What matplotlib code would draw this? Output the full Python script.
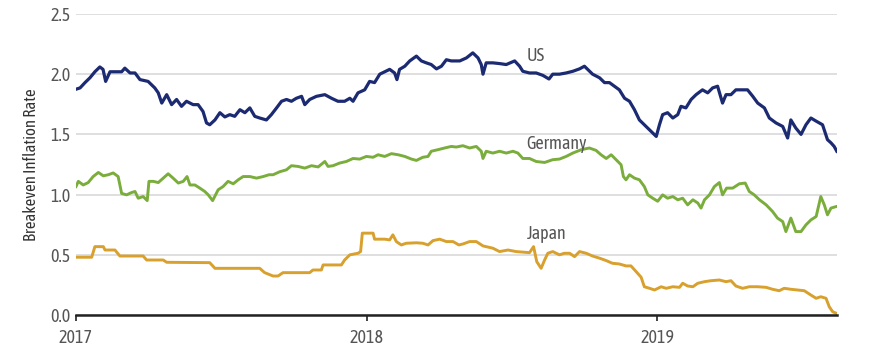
import matplotlib.pyplot as plt
import numpy as np

# decimal-year x positions and breakeven rates
us_t = [2017.000, 2017.014, 2017.031, 2017.048, 2017.065, 2017.082, 2017.093, 2017.102, 2017.117, 2017.140,
        2017.157, 2017.168, 2017.186, 2017.203, 2017.220, 2017.248, 2017.271, 2017.283, 2017.295, 2017.312,
        2017.329, 2017.346, 2017.363, 2017.380, 2017.403, 2017.420, 2017.437, 2017.449, 2017.460, 2017.478,
        2017.495, 2017.512, 2017.529, 2017.546, 2017.564, 2017.581, 2017.598, 2017.615, 2017.632, 2017.655,
        2017.672, 2017.690, 2017.707, 2017.724, 2017.741, 2017.758, 2017.776, 2017.787, 2017.804, 2017.827,
        2017.856, 2017.879, 2017.901, 2017.924, 2017.942, 2017.953, 2017.970, 2017.993, 2018.010, 2018.027,
        2018.045, 2018.062, 2018.079, 2018.096, 2018.104, 2018.113, 2018.131, 2018.148, 2018.171, 2018.188,
        2018.205, 2018.222, 2018.240, 2018.257, 2018.274, 2018.291, 2018.320, 2018.343, 2018.365, 2018.383,
        2018.394, 2018.400, 2018.411, 2018.434, 2018.457, 2018.480, 2018.509, 2018.526, 2018.537, 2018.560,
        2018.583, 2018.606, 2018.627, 2018.640, 2018.663, 2018.686, 2018.709, 2018.732, 2018.749, 2018.760,
        2018.777, 2018.801, 2018.818, 2018.835, 2018.852, 2018.869, 2018.887, 2018.904, 2018.921, 2018.938,
        2018.961, 2018.978, 2018.996, 2019.007, 2019.018, 2019.035, 2019.053, 2019.070, 2019.081, 2019.098,
        2019.116, 2019.133, 2019.155, 2019.173, 2019.190, 2019.207, 2019.224, 2019.236, 2019.253, 2019.270,
        2019.293, 2019.310, 2019.328, 2019.345, 2019.368, 2019.385, 2019.408, 2019.431, 2019.448, 2019.459,
        2019.476, 2019.494, 2019.511, 2019.528, 2019.546, 2019.568, 2019.585, 2019.597, 2019.608, 2019.617]
us_v = [1.875, 1.886, 1.93, 1.97, 2.02, 2.06, 2.04, 1.94, 2.02, 2.02,
        2.02, 2.05, 2.01, 2.01, 1.955, 1.94, 1.886, 1.845, 1.76, 1.83,
        1.747, 1.79, 1.733, 1.775, 1.747, 1.747, 1.69, 1.595, 1.58, 1.62,
        1.68, 1.645, 1.664, 1.65, 1.705, 1.68, 1.72, 1.65, 1.636, 1.62,
        1.664, 1.72, 1.775, 1.79, 1.775, 1.80, 1.816, 1.747, 1.79, 1.816,
        1.83, 1.80, 1.775, 1.775, 1.80, 1.775, 1.845, 1.87, 1.94, 1.93,
        2.0, 2.02, 2.04, 2.01, 1.955, 2.04, 2.066, 2.11, 2.15, 2.11,
        2.094, 2.08, 2.044, 2.066, 2.12, 2.11, 2.11, 2.135, 2.177, 2.135,
        2.08, 2.0, 2.094, 2.094, 2.088, 2.08, 2.11, 2.066, 2.024, 2.01,
        2.01, 1.99, 1.96, 2.0, 2.0, 2.01, 2.024, 2.044, 2.066, 2.04,
        2.0, 1.97, 1.93, 1.93, 1.90, 1.87, 1.80, 1.775, 1.705, 1.62,
        1.566, 1.525, 1.483, 1.58, 1.664, 1.68, 1.636, 1.664, 1.733, 1.72,
        1.79, 1.83, 1.87, 1.845, 1.886, 1.90, 1.76, 1.83, 1.83, 1.87,
        1.87, 1.87, 1.816, 1.76, 1.72, 1.636, 1.595, 1.566, 1.47, 1.62,
        1.553, 1.50, 1.58, 1.636, 1.61, 1.58, 1.456, 1.43, 1.40, 1.36]

de_t = [2017.000, 2017.008, 2017.025, 2017.042, 2017.059, 2017.077, 2017.094, 2017.111, 2017.128, 2017.145,
        2017.157, 2017.174, 2017.191, 2017.203, 2017.214, 2017.231, 2017.245, 2017.251, 2017.266, 2017.283,
        2017.300, 2017.317, 2017.334, 2017.352, 2017.369, 2017.382, 2017.392, 2017.409, 2017.426, 2017.443,
        2017.455, 2017.470, 2017.489, 2017.506, 2017.523, 2017.541, 2017.558, 2017.575, 2017.598, 2017.621,
        2017.644, 2017.664, 2017.678, 2017.701, 2017.724, 2017.741, 2017.764, 2017.787, 2017.810, 2017.833,
        2017.856, 2017.867, 2017.884, 2017.907, 2017.930, 2017.953, 2017.976, 2017.999, 2018.022, 2018.039,
        2018.062, 2018.085, 2018.108, 2018.131, 2018.154, 2018.171, 2018.193, 2018.211, 2018.222, 2018.245,
        2018.268, 2018.291, 2018.308, 2018.331, 2018.354, 2018.377, 2018.394, 2018.400, 2018.411, 2018.434,
        2018.457, 2018.480, 2018.503, 2018.520, 2018.537, 2018.560, 2018.583, 2018.612, 2018.640, 2018.663,
        2018.686, 2018.709, 2018.738, 2018.766, 2018.789, 2018.806, 2018.824, 2018.841, 2018.858, 2018.875,
        2018.883, 2018.892, 2018.904, 2018.921, 2018.938, 2018.955, 2018.967, 2018.984, 2019.001, 2019.018,
        2019.035, 2019.053, 2019.070, 2019.087, 2019.104, 2019.122, 2019.139, 2019.150, 2019.162, 2019.179,
        2019.196, 2019.213, 2019.224, 2019.238, 2019.259, 2019.282, 2019.302, 2019.316, 2019.333, 2019.351,
        2019.374, 2019.396, 2019.413, 2019.431, 2019.442, 2019.459, 2019.476, 2019.494, 2019.511, 2019.528,
        2019.546, 2019.562, 2019.574, 2019.585, 2019.597, 2019.614]
de_v = [1.067, 1.11, 1.08, 1.10, 1.15, 1.184, 1.156, 1.165, 1.18, 1.15,
        1.01, 0.998, 1.017, 1.026, 0.97, 0.984, 0.95, 1.11, 1.11, 1.10,
        1.137, 1.173, 1.137, 1.096, 1.11, 1.15, 1.08, 1.08, 1.054, 1.026,
        0.998, 0.95, 1.04, 1.067, 1.11, 1.09, 1.123, 1.15, 1.15, 1.137,
        1.15, 1.165, 1.165, 1.19, 1.206, 1.24, 1.234, 1.22, 1.24, 1.23,
        1.275, 1.234, 1.24, 1.262, 1.275, 1.30, 1.295, 1.317, 1.31, 1.331,
        1.317, 1.34, 1.331, 1.317, 1.295, 1.284, 1.31, 1.317, 1.36, 1.373,
        1.387, 1.40, 1.395, 1.406, 1.387, 1.40, 1.36, 1.30, 1.36, 1.345,
        1.36, 1.345, 1.36, 1.345, 1.30, 1.30, 1.275, 1.267, 1.29, 1.295,
        1.317, 1.345, 1.373, 1.387, 1.367, 1.331, 1.30, 1.331, 1.29, 1.248,
        1.15, 1.123, 1.165, 1.137, 1.123, 1.067, 0.998, 0.97, 0.945, 0.998,
        0.97, 0.984, 0.957, 0.97, 0.915, 0.957, 0.93, 0.888, 0.957, 0.998,
        1.067, 1.10, 0.998, 1.054, 1.054, 1.09, 1.096, 1.026, 0.998, 0.957,
        0.915, 0.86, 0.805, 0.776, 0.693, 0.805, 0.693, 0.693, 0.749, 0.79,
        0.818, 0.984, 0.915, 0.832, 0.888, 0.90]

jp_t = [2017.000, 2017.054, 2017.065, 2017.094, 2017.100, 2017.134, 2017.151, 2017.231, 2017.243, 2017.300,
        2017.312, 2017.460, 2017.478, 2017.632, 2017.649, 2017.678, 2017.695, 2017.712, 2017.804, 2017.815,
        2017.844, 2017.850, 2017.913, 2017.924, 2017.942, 2017.970, 2017.979, 2017.985, 2018.022, 2018.027,
        2018.062, 2018.079, 2018.090, 2018.102, 2018.119, 2018.136, 2018.171, 2018.193, 2018.211, 2018.228,
        2018.251, 2018.274, 2018.297, 2018.317, 2018.331, 2018.354, 2018.377, 2018.400, 2018.434, 2018.457,
        2018.486, 2018.514, 2018.560, 2018.574, 2018.585, 2018.600, 2018.612, 2018.623, 2018.640, 2018.663,
        2018.680, 2018.698, 2018.715, 2018.732, 2018.755, 2018.777, 2018.801, 2018.824, 2018.845, 2018.869,
        2018.892, 2018.909, 2018.927, 2018.944, 2018.955, 2018.973, 2018.990, 2019.013, 2019.030, 2019.053,
        2019.076, 2019.087, 2019.104, 2019.122, 2019.139, 2019.162, 2019.184, 2019.213, 2019.236, 2019.253,
        2019.270, 2019.293, 2019.316, 2019.345, 2019.374, 2019.396, 2019.419, 2019.436, 2019.459, 2019.482,
        2019.505, 2019.528, 2019.546, 2019.562, 2019.580, 2019.591, 2019.603, 2019.616]
jp_v = [0.48, 0.48, 0.568, 0.568, 0.54, 0.54, 0.49, 0.49, 0.457, 0.457,
        0.438, 0.435, 0.388, 0.388, 0.352, 0.324, 0.324, 0.352, 0.352, 0.374,
        0.374, 0.416, 0.416, 0.457, 0.50, 0.513, 0.527, 0.68, 0.68, 0.63,
        0.63, 0.624, 0.666, 0.61, 0.582, 0.596, 0.60, 0.596, 0.582, 0.618,
        0.63, 0.61, 0.61, 0.582, 0.59, 0.61, 0.61, 0.574, 0.555, 0.527,
        0.54, 0.527, 0.518, 0.568, 0.443, 0.388, 0.457, 0.513, 0.527, 0.50,
        0.513, 0.513, 0.485, 0.527, 0.513, 0.49, 0.472, 0.452, 0.43, 0.424,
        0.408, 0.408, 0.36, 0.314, 0.235, 0.222, 0.208, 0.235, 0.222, 0.235,
        0.23, 0.264, 0.241, 0.235, 0.264, 0.277, 0.285, 0.291, 0.277, 0.285,
        0.241, 0.222, 0.235, 0.235, 0.23, 0.214, 0.202, 0.222, 0.214, 0.208,
        0.202, 0.166, 0.139, 0.152, 0.139, 0.069, 0.027, 0.014]

years = [2017, 2018, 2019]
yticks = [0.0, 0.5, 1.0, 1.5, 2.0, 2.5]

plt.rcParams['font.family'] = ['Asap Condensed', 'Liberation Sans Narrow', 'DejaVu Sans']

fig = plt.figure(figsize=(8.94, 3.58), dpi=100)
ax = fig.add_axes([0.085, 0.12, 0.851, 0.841])

ax.plot(us_t, us_v, color='#1c2a72', lw=2.3)
ax.plot(de_t, de_v, color='#7aad3c', lw=2.1)
ax.plot(jp_t, jp_v, color='#d8a02c', lw=2.1)

ax.text(2018.55, 2.15, 'US', color='#555555', fontsize=13, va='center')
ax.text(2018.55, 1.42, 'Germany', color='#555555', fontsize=13, va='center')
ax.text(2018.55, 0.67, 'Japan', color='#555555', fontsize=13, va='center')

ax.set_xlim(2017, 2019.617)
ax.set_ylim(0, 2.5)
ax.set_yticks(yticks)
ax.set_yticklabels(['%.1f' % v for v in yticks])
ax.set_xticks(years)
ax.set_xticklabels([str(y) for y in years])
ax.grid(axis='y', color='#d9d9d9', lw=1.2)
ax.set_axisbelow(True)

for s in ['top', 'right', 'left']:
    ax.spines[s].set_visible(False)
ax.spines['bottom'].set_linewidth(1.8)
ax.spines['bottom'].set_color('#222222')
ax.tick_params(axis='y', length=0, pad=4, labelsize=13, labelcolor='#555555')
ax.tick_params(axis='x', length=4, width=1.2, color='#222222', pad=6, labelsize=13, labelcolor='#555555')
ax.set_ylabel('Breakeven Inflation Rate', fontsize=12, color='#333333', labelpad=7)

fig.savefig('out.png', dpi=100)
